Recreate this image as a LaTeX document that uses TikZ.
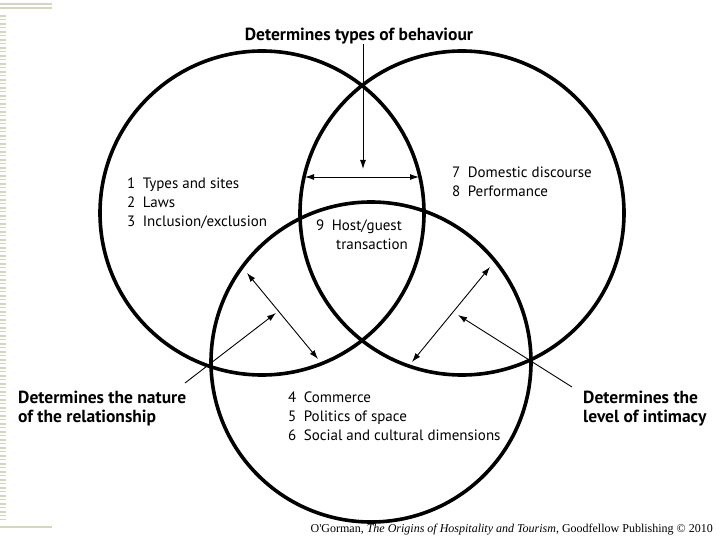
\documentclass[tikz,border=0pt]{standalone}
\usepackage{fontspec}
\setmainfont{PT Sans}
\newfontfamily\citefont{Liberation Serif}
\usepackage{xcolor}
\usetikzlibrary{arrows.meta}

\definecolor{stripe}{RGB}{214,214,190}

\begin{document}
\begin{tikzpicture}[x=1pt, y=-1pt,
    every node/.style={font=\fontsize{15}{19}\selectfont},
    ring/.style={line width=3.6pt},
    arrow/.style={-{Latex[length=9pt,width=6pt]}, line width=0.9pt},
    twoway/.style={{Latex[length=9pt,width=6pt]}-{Latex[length=9pt,width=6pt]}, line width=0.9pt},
    heading/.style={font=\fontsize{17.5}{19}\selectfont\bfseries, align=left, inner sep=0pt, anchor=north west},
    items/.style={align=left, inner sep=0pt, anchor=north west},
]
\useasboundingbox (0,0) rectangle (720,540);

% slide border
\draw[stripe, line width=6pt, dash pattern=on 2pt off 2pt on 1pt off 3pt] (3,15) -- (3,520);
\draw[stripe, line width=1.5pt] (0,4) -- (52,4) (0,8) -- (52,8) (0,527) -- (52,527);

% the three circles
\draw[ring] (262,213) circle (162);
\draw[ring] (462,213) circle (162);
\draw[ring] (371,362) circle (160);

% texts
\node[heading, anchor=north] (behaviour) at (359,28) {Determines types of behaviour};
\node[items] (sites) at (127,178) {1\enspace Types and sites\\2\enspace Laws\\3\enspace Inclusion/exclusion};
\node[items] (domestic) at (452,167) {7\enspace Domestic discourse\\8\enspace Performance};
\node[items] (host) at (316,220) {9\enspace Host/guest\\\hspace*{20pt}transaction};
\node[items] (commerce) at (288,392) {4\enspace Commerce\\5\enspace Politics of space\\6\enspace Social and cultural dimensions};
\node[heading] (nature) at (18,391) {Determines the nature\\of the relationship};
\node[heading] (intimacy) at (583,391) {Determines the\\level of intimacy};
\node[anchor=base east, inner sep=0pt, font=\citefont\fontsize{12}{14}\selectfont] (source) at (713,532)
  {O'Gorman, \textit{The Origins of Hospitality and Tourism}, Goodfellow Publishing \textcopyright\ 2010};

% arrow ends
\coordinate (behav-tip) at (363,169);
\coordinate (lens-l) at (305,177);
\coordinate (lens-r) at (419,177);
\coordinate (nature-end) at (185,383);
\coordinate (nature-tip) at (276,313);
\coordinate (left-a) at (247,273);
\coordinate (left-b) at (318,359);
\coordinate (right-a) at (490,267);
\coordinate (right-b) at (412,362);
\coordinate (intimacy-end) at (572,387);
\coordinate (intimacy-tip) at (458,315);

\draw[arrow] (behaviour.south -| behav-tip) -- (behav-tip);
\draw[twoway] (lens-l) -- (lens-r);
\draw[arrow] (nature-end) -- (nature-tip);
\draw[twoway] (left-a) -- (left-b);
\draw[twoway] (right-a) -- (right-b);
\draw[arrow] (intimacy-end) -- (intimacy-tip);

\end{tikzpicture}
\end{document}
